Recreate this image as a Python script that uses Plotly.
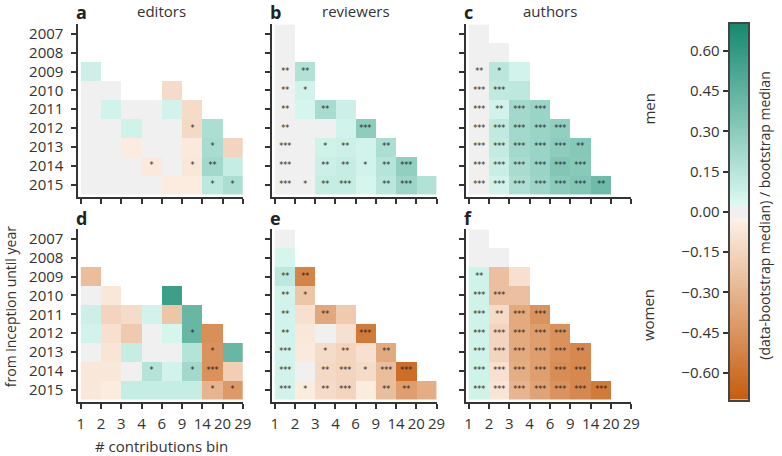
import numpy as np
import plotly.graph_objects as go

nan = None
years = ["2007", "2008", "2009", "2010", "2011", "2012", "2013", "2014", "2015"]
bins = ["1", "2", "3", "4", "6", "9", "14", "20", "29"]
roles = ["editors", "reviewers", "authors"]
genders = ["men", "women"]
panel_letters = [["a", "b", "c"], ["d", "e", "f"]]

def row(vals):
    return list(vals) + [nan] * (8 - len(vals))

def srow(vals):
    return list(vals) + [""] * (8 - len(vals))

# ---- editors ----
editors_men = [
    row([]),
    row([]),
    row([0.08]),
    row([0.01, 0.0, nan, nan, -0.12]),
    row([0.0, 0.06, 0.01, 0.01, 0.06, -0.12]),
    row([0.0, 0.01, 0.07, 0.0, 0.01, -0.13, 0.19]),
    row([0.0, 0.01, -0.05, 0.0, 0.01, -0.06, 0.20, -0.15]),
    row([0.0, 0.0, 0.01, -0.06, 0.01, -0.07, 0.22, 0.10]),
    row([0.0, 0.0, 0.0, 0.01, -0.05, -0.05, 0.13, 0.19]),
]
editors_men_sig = [
    srow([]), srow([]), srow([""]), srow([]),
    srow(["", "", "", "", "", ""]),
    srow(["", "", "", "", "", "*", ""]),
    srow(["", "", "", "", "", "", "*", ""]),
    srow(["", "", "", "*", "", "*", "**", ""]),
    srow(["", "", "", "", "", "", "*", "*"]),
]
editors_women = [
    row([]),
    row([]),
    row([-0.26]),
    row([0.0, -0.07, nan, nan, 0.57]),
    row([0.08, -0.15, -0.12, 0.06, -0.22, 0.42]),
    row([0.06, -0.10, -0.20, 0.01, 0.05, 0.42, -0.47]),
    row([0.01, -0.08, 0.10, 0.01, 0.01, 0.16, -0.45, 0.42]),
    row([-0.07, -0.07, 0.01, 0.16, 0.06, 0.22, -0.46, -0.18]),
    row([-0.07, -0.05, 0.10, 0.10, 0.10, 0.10, -0.30, -0.42]),
]
editors_women_sig = [
    srow([]), srow([]), srow([""]), srow([]),
    srow(["", "", "", "", "", ""]),
    srow(["", "", "", "", "", "*", ""]),
    srow(["", "", "", "", "", "", "*", ""]),
    srow(["", "", "", "*", "", "*", "***", ""]),
    srow(["", "", "", "", "", "", "*", "*"]),
]

# ---- reviewers ----
reviewers_men = [
    row([0.0]),
    row([0.01]),
    row([0.01, 0.17]),
    row([0.01, 0.06]),
    row([0.01, 0.05, 0.20, 0.08]),
    row([0.01, 0.0, 0.0, 0.06, 0.29]),
    row([0.01, 0.0, 0.07, 0.08, 0.06, 0.19]),
    row([0.01, 0.0, 0.08, 0.10, 0.06, 0.15, 0.28]),
    row([0.01, 0.0, 0.10, 0.10, 0.05, 0.14, 0.24, 0.17]),
]
reviewers_men_sig = [
    srow([""]), srow([""]),
    srow(["**", "**"]),
    srow(["**", "*"]),
    srow(["**", "", "**", ""]),
    srow(["**", "", "", "", "***"]),
    srow(["***", "", "*", "**", "", "**"]),
    srow(["***", "", "**", "**", "*", "**", "***"]),
    srow(["***", "*", "**", "***", "", "**", "***", ""]),
]
reviewers_women = [
    row([0.0]),
    row([0.05]),
    row([0.13, -0.52]),
    row([0.06, -0.22]),
    row([0.06, -0.10, -0.36, -0.20]),
    row([0.06, -0.07, 0.0, -0.10, -0.56]),
    row([0.06, -0.06, -0.12, -0.15, -0.10, -0.35]),
    row([0.06, 0.0, -0.13, -0.15, -0.12, -0.26, -0.62]),
    row([0.06, -0.05, -0.12, -0.15, -0.05, -0.26, -0.40, -0.33]),
]
reviewers_women_sig = [
    srow([""]), srow([""]),
    srow(["**", "**"]),
    srow(["**", "*"]),
    srow(["**", "", "**", ""]),
    srow(["**", "", "", "", "***"]),
    srow(["***", "", "*", "**", "", "**"]),
    srow(["***", "", "**", "***", "*", "***", "***"]),
    srow(["***", "*", "**", "***", "", "**", "**", ""]),
]

# ---- authors ----
authors_men = [
    row([0.0]),
    row([0.0, 0.0]),
    row([0.0, 0.14, 0.06]),
    row([0.0, 0.12, 0.13]),
    row([0.0, 0.06, 0.22, 0.25]),
    row([0.0, 0.12, 0.22, 0.25, 0.28]),
    row([0.0, 0.11, 0.22, 0.25, 0.29, 0.32]),
    row([0.0, 0.09, 0.20, 0.25, 0.33, 0.31]),
    row([0.0, 0.06, 0.18, 0.24, 0.30, 0.33, 0.40]),
]
authors_men_sig = [
    srow([""]),
    srow(["", ""]),
    srow(["**", "*", ""]),
    srow(["***", "***", ""]),
    srow(["***", "**", "***", "***"]),
    srow(["***", "***", "***", "***", "***"]),
    srow(["***", "***", "***", "***", "***", "**"]),
    srow(["***", "***", "***", "***", "***", "***"]),
    srow(["***", "***", "***", "***", "***", "***", "**"]),
]
authors_women = [
    row([0.0]),
    row([0.0, 0.0]),
    row([0.07, -0.25, -0.10]),
    row([0.07, -0.25, -0.25]),
    row([0.07, -0.12, -0.35, -0.45]),
    row([0.07, -0.15, -0.35, -0.40, -0.46]),
    row([0.07, -0.15, -0.35, -0.40, -0.46, -0.50]),
    row([0.07, -0.10, -0.33, -0.40, -0.48, -0.50]),
    row([0.07, -0.08, -0.30, -0.38, -0.45, -0.50, -0.56]),
]
authors_women_sig = [
    srow([""]),
    srow(["", ""]),
    srow(["**", "", ""]),
    srow(["***", "***", ""]),
    srow(["***", "**", "***", "***"]),
    srow(["***", "***", "***", "***", "***"]),
    srow(["***", "***", "***", "***", "***", "**"]),
    srow(["***", "***", "***", "***", "***", "***"]),
    srow(["***", "***", "***", "***", "***", "***", "***"]),
]

values = {
    ("men", "editors"): (editors_men, editors_men_sig),
    ("women", "editors"): (editors_women, editors_women_sig),
    ("men", "reviewers"): (reviewers_men, reviewers_men_sig),
    ("women", "reviewers"): (reviewers_women, reviewers_women_sig),
    ("men", "authors"): (authors_men, authors_men_sig),
    ("women", "authors"): (authors_women, authors_women_sig),
}

colorscale = [
    [0.0, "#c65c0e"],
    [0.482, "#fdf1e7"],
    [0.485, "#f0f0f0"],
    [0.515, "#f0f0f0"],
    [0.518, "#dcf9f2"],
    [1.0, "#16896e"],
]
ZMIN, ZMAX = -0.7, 0.7
TXT = "#333333"
FONT = "Open Sans"
W, H = 782, 456

# layout geometry (pixels)
col_px = [(77.5, 244.3), (274.2, 440.7), (470.8, 638.3)]
row_px = [(23.5, 196.5), (229.0, 402.0)]
xpad = 0.12
ypad = 0.16

def px_x(a, b):
    return [a / W, b / W]

def px_y(top, bot):
    return [1 - bot / H, 1 - top / H]

fig = go.Figure()
layout = dict(
    width=W, height=H, margin=dict(l=0, r=0, t=0, b=0),
    paper_bgcolor="white", plot_bgcolor="white",
    font=dict(family=FONT, size=15, color=TXT),
    showlegend=False,
)
annotations = []
xcent = [i + 0.5 for i in range(8)]
yidx = list(range(9))

k = 0
for r, g in enumerate(genders):
    for c, role in enumerate(roles):
        k += 1
        z, sig = values[(g, role)]
        xa = "x" if k == 1 else f"x{k}"
        ya = "y" if k == 1 else f"y{k}"
        fig.add_trace(go.Heatmap(
            z=z, x=xcent, y=yidx, text=sig, texttemplate="%{text}",
            textfont=dict(family="DejaVu Sans", size=8, color="#1f1f1f"),
            colorscale=colorscale, zmin=ZMIN, zmax=ZMAX, showscale=False,
            hoverongaps=False, xaxis=xa, yaxis=ya,
        ))
        axn = "" if k == 1 else str(k)
        layout["xaxis" + axn] = dict(
            domain=px_x(*col_px[c]), anchor=ya, range=[-xpad, 8],
            tickmode="array", tickvals=list(range(9)), ticktext=bins,
            showticklabels=(r == 1), ticks="outside", ticklen=5, tickwidth=1.5,
            tickcolor="#333333", showline=True, linecolor="#333333", linewidth=2,
            showgrid=False, zeroline=False, fixedrange=True,
            tickfont=dict(size=15, color=TXT), ticklabelstandoff=2,
        )
        layout["yaxis" + axn] = dict(
            domain=px_y(*row_px[r]), anchor=xa, range=[8.5 + ypad, -0.5],
            tickmode="array", tickvals=yidx, ticktext=years,
            showticklabels=(c == 0), ticks="outside", ticklen=5, tickwidth=1.5,
            tickcolor="#333333", showline=True, linecolor="#333333", linewidth=2,
            showgrid=False, zeroline=False, fixedrange=True,
            tickfont=dict(size=15, color=TXT), ticklabelstandoff=5,
        )
        # panel letter
        annotations.append(dict(
            text=f"<b>{panel_letters[r][c]}</b>", xref="paper", yref="paper",
            x=(col_px[c][0] - 3) / W, y=1 - (-2 if r == 0 else 204) / H,
            xanchor="left", yanchor="top", showarrow=False, borderpad=0,
            font=dict(size=18, color="#222222", family=FONT),
        ))
        if r == 0:
            annotations.append(dict(
                text=role, xref="paper", yref="paper",
                x=(col_px[c][0] + 2.5 + col_px[c][1]) / 2 / W, y=1 + 1 / H,
                xanchor="center", yanchor="top", showarrow=False, borderpad=0,
                font=dict(size=15, color=TXT),
            ))

# row labels
annotations.append(dict(text="men", xref="paper", yref="paper", x=656 / W, y=1 - 108 / H,
                        textangle=-90, showarrow=False, xanchor="center", yanchor="middle",
                        font=dict(size=15, color=TXT)))
annotations.append(dict(text="women", xref="paper", yref="paper", x=656 / W, y=1 - 315 / H,
                        textangle=-90, showarrow=False, xanchor="center", yanchor="middle",
                        font=dict(size=15, color=TXT)))
annotations.append(dict(text="from inception until year", xref="paper", yref="paper",
                        x=8 / W, y=1 - 306 / H, textangle=-90, showarrow=False,
                        xanchor="center", yanchor="middle", font=dict(size=14, color=TXT)))
annotations.append(dict(text="# contributions bin", xref="paper", yref="paper",
                        x=162 / W, y=1 - 446 / H, showarrow=False,
                        xanchor="center", yanchor="middle", font=dict(size=15, color=TXT)))

# colorbar drawn as its own small heatmap axis
cb_levels = np.linspace(ZMIN, ZMAX, 281)
cb_ticks = [0.60, 0.45, 0.30, 0.15, 0.0, -0.15, -0.30, -0.45, -0.60]
cb_ticktext = [("%.2f" % v).replace("-", "\u2212") for v in cb_ticks]
fig.add_trace(go.Heatmap(
    z=[[v] for v in cb_levels], x=[0], y=list(cb_levels),
    colorscale=colorscale, zmin=ZMIN, zmax=ZMAX, showscale=False,
    xaxis="x7", yaxis="y7", hoverinfo="skip",
))
layout["xaxis7"] = dict(domain=px_x(738, 757), anchor="y7", range=[-0.5, 0.5],
                        showticklabels=False, ticks="", showline=True, mirror=True,
                        linecolor="#444444", linewidth=2, showgrid=False, zeroline=False,
                        fixedrange=True)
layout["yaxis7"] = dict(domain=px_y(23, 399.5), anchor="x7", range=[ZMIN, ZMAX],
                        tickmode="array", tickvals=cb_ticks, ticktext=cb_ticktext,
                        ticks="outside", ticklen=5, tickwidth=1.5, tickcolor="#333333",
                        showline=True, mirror=True, linecolor="#444444", linewidth=2,
                        showgrid=False, zeroline=False, fixedrange=True,
                        tickfont=dict(size=15, color=TXT))
annotations.append(dict(text="(data-bootstrap median) / bootstrap median", xref="paper",
                        yref="paper", x=773 / W, y=1 - 215 / H, textangle=-90,
                        showarrow=False, xanchor="center", yanchor="middle",
                        font=dict(size=14, color=TXT)))

layout["annotations"] = annotations
fig.update_layout(**layout)
fig.write_html("out.html", config={"displayModeBar": False},
               post_script="document.body.style.margin='0px';document.body.style.overflow='hidden';")
